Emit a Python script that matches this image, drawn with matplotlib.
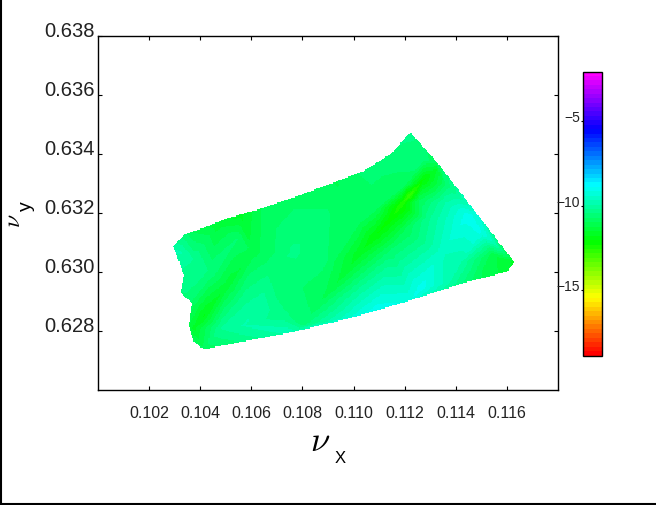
import numpy as np
import matplotlib
matplotlib.use("Agg")
import matplotlib.pyplot as plt
import matplotlib.tri as mtri
from matplotlib.colors import LinearSegmentedColormap
from matplotlib.lines import Line2D
from matplotlib.path import Path

plt.rcParams["font.family"] = ["Liberation Sans", "DejaVu Sans"]
plt.rcParams["mathtext.fontset"] = "cm"

# Boundary of the measured region (nu_x, nu_y)
edge_x = [.10291,.10341,.10400,.10505,.10635,.10766,.10923,.11040,.11145,.11224,.11328,.11485,.11631,
          .11603,.11420,.11224,.11027,.10766,.10413,.10374,.10354,.10367,.10322,.10335,.10302]
edge_y = [.63087,.63129,.63146,.63182,.63214,.63253,.63304,.63343,.63400,.63474,.63372,.63197,.63033,
          .63001,.62959,.62903,.62850,.62796,.62737,.62762,.62818,.62892,.62931,.62987,.63067]

# Scattered values
nu_x = [.11328,.11276,.11224,.11184,.11145,.11080,.11027,.10949,.10858,.10805,
        .11191,.11256,.11093,.11197,.11014,.11145,.10884,.11014,.11276,.11367,
        .10557,.10609,.10505,.10413,.10374,
        .10544,.10675,.10439,.10570,.10361,.10478,
        .11550,.11616,.11485,
        .10766,.10635,.10570,.10792,.10714,
        .11263,.11093,.11446,.11498,.11550,
        .10322,.10374,.10335,
        .10374,.10465,.10635,.10766,.10923,.11054,.11158,.11224,
        .10897,.11289,.11354,.11341,.11420,.11367,
        .10413,.10766,.11027,.11224,.11420,
        .10291,.11631,.11328,.11485,.11563,.10374,.10354,.10322,.10302,.10341,.11603]
nu_y = [.63349,.63315,.63264,.63225,.63180,.63118,.63067,.62976,.62886,.62818,
        .63287,.63242,.63219,.63140,.63163,.63072,.63021,.62931,.63383,.63293,
        .63191,.63067,.62954,.62852,.62807,
        .63112,.63021,.62999,.62908,.62897,.62807,
        .63055,.63033,.62976,
        .63067,.62886,.62818,.62954,.62852,
        .62942,.62875,.63191,.63134,.63101,
        .63067,.63044,.62931,
        .63134,.63163,.63214,.63247,.63310,.63349,.63406,.63474,
        .63202,.63180,.63236,.63067,.63033,.62965,
        .62737,.62795,.62852,.62903,.62959,
        .63087,.63033,.63372,.63197,.63089,.62762,.62818,.62931,.63067,.63129,.63001]
level = [-11.5,-12.1,-12.8,-12.5,-12.2,-12.0,-11.7,-11.3,-10.9,-10.5,
         -10.9,-11.0,-10.9,-11.0,-10.9,-10.7,-10.7,-10.1,-10.6,-10.6,
         -11.6,-11.1,-11.4,-11.8,-11.6,
         -10.7,-10.6,-10.5,-10.3,-10.7,-10.2,
         -11.2,-11.5,-10.9,
         -10.4,-10.0,-9.9,-10.7,-10.4,
         -9.0,-9.0,-9.0,-9.1,-9.7,
         -9.9,-10.2,-10.4,
         -11.0,-11.4,-11.0,-10.8,-11.0,-10.6,-10.5,-10.4,
         -10.7,-10.3,-10.0,-9.6,-9.9,-9.8,
         -10.9,-9.8,-9.2,-9.2,-10.4,
         -10.0,-11.6,-10.9,-9.3,-9.9,-10.9,-11.2,-10.5,-9.9,-10.7,-11.4]

x_ticks = [.102,.104,.106,.108,.110,.112,.114,.116]
y_ticks = [.628,.630,.632,.634,.636,.638]
bar_ticks = [-15,-10,-5]
bar_range = (-18.86,-2.06)

W, H = 656, 506
fig = plt.figure(figsize=(W/100, H/100), dpi=100)
ax = fig.add_axes([98/W, (H-391)/H, 460/W, 354/H])
ax.set_xlim(.100, .118)
ax.set_ylim(.626, .638)

cmap = LinearSegmentedColormap.from_list(
    "rainbow6", ["#ff0000","#ffff00","#00ff00","#00ffff","#0000ff","#ff00ff"], N=64)

gx = np.linspace(.100, .118, 400)
gy = np.linspace(.626, .638, 300)
GX, GY = np.meshgrid(gx, gy)
tri = mtri.Triangulation(nu_x, nu_y)
Z = mtri.LinearTriInterpolator(tri, level)(GX, GY)
Z = np.ma.filled(Z, np.nan)
inside = Path(np.column_stack([edge_x, edge_y])).contains_points(
    np.column_stack([GX.ravel(), GY.ravel()])).reshape(GX.shape)
Z = np.ma.masked_where(~inside | ~np.isfinite(Z), Z)
im = ax.imshow(Z, extent=(.100, .118, .626, .638), origin="lower", aspect="auto",
               interpolation="nearest", cmap=cmap, vmin=bar_range[0], vmax=bar_range[1])

for s in ax.spines.values():
    s.set_linewidth(1.0)
ax.set_xticks(x_ticks)
ax.set_xticklabels([f"{v:.3f}" for v in x_ticks])
ax.set_yticks(y_ticks)
ax.set_yticklabels([f"{v:.3f}" for v in y_ticks])
ax.tick_params(axis="x", direction="in", length=3, width=0.8, top=True, pad=10.5, labelsize=11.5, labelcolor="#222222")
ax.tick_params(axis="y", direction="in", length=3, width=0.8, right=True, pad=2.5, labelsize=14.5, labelcolor="#222222")
for lab in ax.get_yticklabels():
    lab.set_va("baseline")

cax = fig.add_axes([583/W, (H-356.5)/H, 18.5/W, 284/H])
cb = fig.colorbar(im, cax=cax)
cb.set_ticks(bar_ticks)
cb.set_ticklabels(["\u221215", "\u221210", "\u22125"])
cax.yaxis.set_ticks_position("left")
cax.tick_params(axis="y", length=1.5, width=0.8, pad=0.5, labelsize=10, labelcolor="#222222")
for lab in cax.get_yticklabels():
    lab.set_va("baseline")
cb.outline.set_linewidth(1.0)

fig.text(320/W, 1-442/H, r"$\nu$", fontsize=25, ha="center", va="center")
fig.text(340/W, 1-459/H, "X", fontsize=12, ha="center", va="center")
fig.text(14/W, 1-221/H, r"$\nu$", fontsize=17, rotation=90, ha="center", va="center")
fig.text(26/W, 1-206/H, "y", fontsize=14, rotation=90, ha="center", va="center")

fig.add_artist(Line2D([1/W, 1/W], [0, 1], color="black", lw=1.5, transform=fig.transFigure))
fig.add_artist(Line2D([0, 1], [1-505/H, 1-505/H], color="black", lw=1.5, transform=fig.transFigure))

fig.savefig("out.png", dpi=100)
